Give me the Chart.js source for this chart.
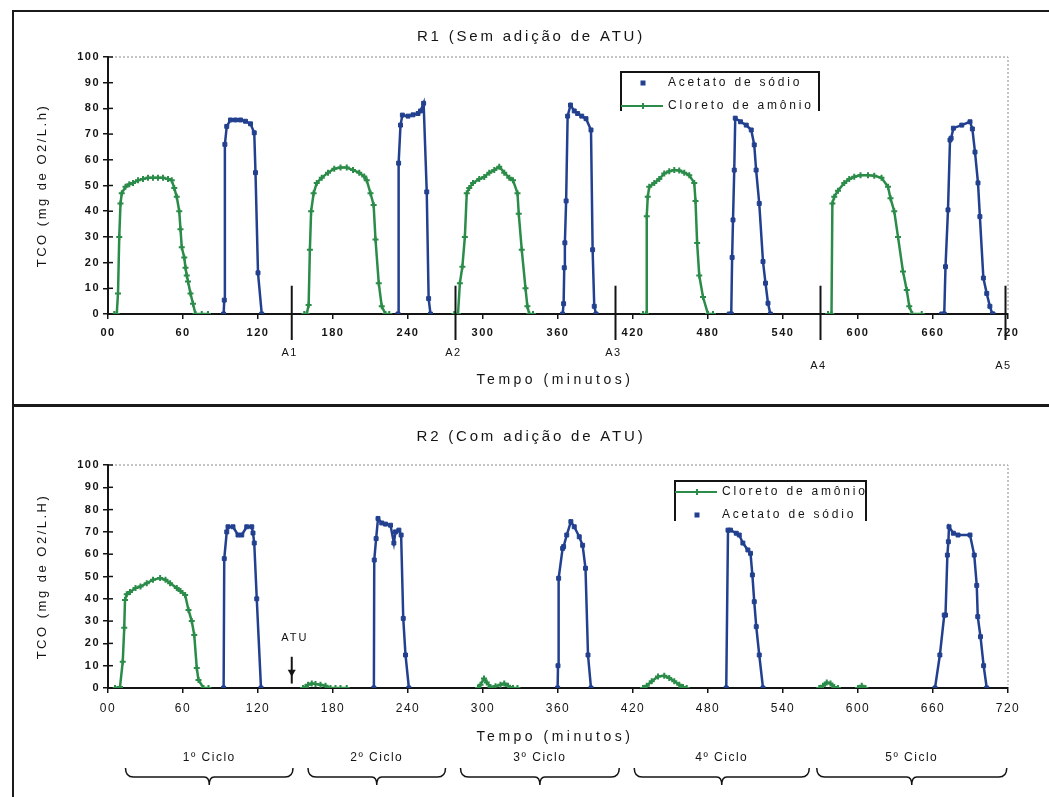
<!DOCTYPE html>
<html lang="pt">
<head>
<meta charset="UTF-8">
<title>TCO - R1 e R2</title>
<script src="https://cdn.jsdelivr.net/npm/chart.js"></script>
<style>
    body { margin: 0; background: #fff; }
    .page { position: relative; width: 1049px; height: 797px; overflow: hidden; background: #fff; }
    .frame { position: absolute; left: 12px; top: 10px; width: 1100px; height: 900px;
             border-left: 2px solid #1a1a1a; border-top: 2px solid #1a1a1a; }
    .divider { position: absolute; left: 12px; top: 404px; width: 1100px; height: 3px; background: #1a1a1a; }
    canvas { position: absolute; left: 0; }
    #chartR1 { top: 0; }
    #chartR2 { top: 400px; }
</style>
</head>
<body>
<div class="page">
    <div class="frame"></div>
    <div class="divider"></div>
    <canvas id="chartR1" width="1049" height="400"></canvas>
    <canvas id="chartR2" width="1049" height="397"></canvas>
</div>

<script>
// eixos
const xTickValues = [0, 60, 120, 180, 240, 300, 360, 420, 480, 540, 600, 660, 720];
const xTickLabels = ['00', '60', '120', '180', '240', '300', '360', '420', '480', '540', '600', '660', '720'];
const yTickValues = [0, 10, 20, 30, 40, 50, 60, 70, 80, 90, 100];
const yTickLabels = ['0', '10', '20', '30', '40', '50', '60', '70', '80', '90', '100'];

// R1 - Cloreto de amônio (null = fim do pico)
const r1CloretoT = [5, 7, 8, 9, 10, 11, 14, 17, 20, 24, 28, 32, 36, 40, 44, 48, 51, 53, 55, 57, 58, 59, 61, 62, 63, 64, 66, 68, 70, 75, 80, null,
    157, 159, 160.5, 161.5, 162.5, 164.5, 167, 171, 176, 181, 186, 191, 196, 201, 205, 207, 210, 212.5, 214, 216.6, 219, 222, 225, null,
    277, 280, 281.5, 283.5, 285.5, 287, 289, 292, 297, 301, 305, 309, 313, 317, 321, 324, 327.6, 328.6, 331, 334, 335.5, 337, 340, null,
    428, 430.5, 431, 431.8, 433, 437, 441, 445, 449, 453, 457, 461, 465, 469, 470, 471.3, 473, 476, 480, 484, null,
    576, 578.8, 579.5, 581, 584, 589, 593, 597, 602, 608, 613, 618.8, 624, 626, 629, 632, 636, 639, 641, 643.4, 651];
const r1CloretoY = [0, 0, 8, 30, 43, 47, 49.5, 50.5, 51, 52, 52.5, 53, 53, 53, 53, 52.5, 52, 49, 45.6, 40, 33, 26, 22, 18, 15, 12.6, 8, 4, 0, 0, 0, null,
    0, 0, 3.5, 25, 40, 47, 51, 53, 55, 56.5, 57, 57, 56, 55, 53.5, 52, 47, 42.4, 29, 12, 3, 0, 0, null,
    0, 0, 12, 18.4, 30, 47, 49, 51, 52.5, 53.3, 55, 56, 57.3, 55, 53, 52, 47, 39, 25, 10, 3, 0, 0, null,
    0, 0, 38, 45.6, 49.5, 51, 52.5, 54.7, 55.5, 56, 55.8, 55, 54, 51, 44, 27.6, 15, 6.6, 0, 0, null,
    0, 0, 43, 45.6, 48, 51, 52.5, 53.4, 54, 54, 53.8, 53, 49.5, 45, 40, 30, 16.5, 9.3, 3, 0, 0];

// R1 - Acetato de sódio
const r1AcetatoT = [92.5, 93, 93.5, 95, 98, 102, 106, 110, 114, 117, 118, 120, 123, null,
    232, 232.5, 234, 235.5, 240, 244, 248, 250, 252.5, 255, 256.5, 258, null,
    363.7, 364.5, 365, 365.5, 366.5, 367.7, 370, 373, 375.7, 379, 382.4, 386.4, 387.7, 389, 390.4, null,
    497, 498.6, 499.3, 500, 501, 501.8, 506, 510.6, 514.6, 517, 518.5, 521, 524, 526, 528, 529.9, null,
    667, 669, 670, 672, 673.6, 674.5, 676.3, 683, 689.6, 691.5, 693.6, 696, 697.5, 700.3, 703, 705.5, 707.5, 708];
const r1AcetatoY = [0, 5.4, 66, 73, 75.5, 75.5, 75.5, 75, 74, 70.5, 55, 16, 0, null,
    0, 58.7, 73.5, 77.4, 77, 77.5, 78, 79, 82, 47.5, 6, 0, null,
    0, 4, 18, 27.7, 44, 77, 81.3, 79, 78, 77, 76, 71.6, 25, 3, 0, null,
    0, 0, 22, 36.6, 56, 76.2, 74.8, 73.5, 71.6, 65.8, 56, 43, 20.4, 12, 4.2, 0, null,
    0, 0, 18.4, 40.5, 67.7, 68.4, 72.3, 73.5, 74.8, 72, 63, 51, 37.9, 14, 8, 3, 0, 0];

// R1 - adições (minutos)
const r1Marcas = [147, 278, 406, 570, 718];
const r1MarcasLabel = ['A1', 'A2', 'A3', 'A4', 'A5'];

// R2 - Cloreto de amônio
const r2CloretoT = [5.6, 9.6, 11.8, 13, 13.6, 15, 17.6, 22, 26, 31, 36, 41.7, 46, 49.7, 55, 58, 61.7, 64.4, 67, 69, 71, 72.4, 76.4, 80.4, null,
    156, 158, 160, 163, 166, 170, 174, 178, 182, 186, 191, null,
    296, 298, 300.8, 303, 306, 310, 314, 317, 320, 324, 327.6, null,
    428, 431, 435, 440, 445, 449, 453, 457, 460, 463, null,
    569, 572, 575, 578, 581, 584, null,
    600, 603, 606];
const r2CloretoY = [0, 0.5, 11.8, 27, 39.5, 42, 43, 44.8, 45.5, 47, 48.5, 49.3, 48.5, 47, 44.8, 43.5, 41.7, 35, 30, 23.8, 9, 3.6, 0, 0, null,
    0, 0.5, 1.5, 2, 1.8, 1.5, 1, 0, 0, 0, 0, null,
    0, 1.5, 4.3, 2.5, 0.5, 0.8, 1.5, 2, 1, 0, 0, null,
    0, 1, 3, 5.2, 5.5, 4.5, 3, 1.5, 0.5, 0, null,
    0, 1, 2.5, 2, 0.5, 0, null,
    0, 1, 0];

// R2 - Acetato de sódio
const r2AcetatoT = [92.5, 93, 95, 96, 100, 104, 107, 111, 115, 116, 117, 119, 122.4, null,
    212.7, 213, 214.5, 216, 219, 222, 226, 228.7, 230, 232.7, 234.5, 236.2, 238, 240.7, null,
    359.7, 360, 360.5, 363.7, 364.5, 367, 370.3, 373, 377, 379.7, 382, 384, 386.4, null,
    494.6, 496, 498, 502.6, 505, 507.9, 511.9, 514, 515.5, 517, 518.6, 521, 524, null,
    661.6, 665.5, 669, 670, 671.5, 672.3, 672.8, 676.3, 680, 689.6, 693, 695, 695.8, 698, 700.5, 703];
const r2AcetatoY = [0, 58, 70, 72.3, 72.3, 68.6, 68.6, 72.3, 72.3, 69.5, 65, 40, 0, null,
    0, 57.4, 67, 76, 74, 73.5, 73, 65, 70, 70.8, 68.6, 31.2, 14.8, 0, null,
    0, 10, 49.2, 62.6, 63.4, 68.6, 74.6, 72.3, 67.8, 64, 53.7, 14.8, 0, null,
    0, 70.8, 70.8, 69.4, 68.6, 65, 61.9, 60.4, 50.7, 38.7, 27.5, 14.8, 0, null,
    0, 14.8, 32.7, 32.7, 59.6, 65.6, 72.3, 69.4, 68.6, 68.6, 59.6, 46, 32, 23, 10, 0];

// R2 - adição de ATU e ciclos (minutos)
const r2Atu = 147;
const r2Ciclos = [[14, 148], [160, 270], [282, 409], [421, 561], [567, 719]];
const r2CiclosLabel = ['1º Ciclo', '2º Ciclo', '3º Ciclo', '4º Ciclo', '5º Ciclo'];

const VERDE = '#2a8c48';
const AZUL = '#22408f';
const TINTA = '#141414';
const FONTE = '"Liberation Sans", Arial, sans-serif';

function pontos(t, y) {
    return t.map((v, i) => ({ x: v, y: y[i] }));
}

function serieCloreto(t, y) {
    return {
        label: 'Cloreto de amônio', data: pontos(t, y), showLine: true, spanGaps: false,
        borderColor: VERDE, backgroundColor: VERDE, borderWidth: 2.5,
        pointStyle: 'cross', pointRadius: 3, pointBorderWidth: 2, tension: 0
    };
}

function serieAcetato(t, y) {
    return {
        label: 'Acetato de sódio', data: pontos(t, y), showLine: true, spanGaps: false,
        borderColor: AZUL, backgroundColor: AZUL, borderWidth: 2.5,
        pointStyle: 'rect', pointRadius: 2.8, pointBorderWidth: 1, tension: 0
    };
}

function texto(ctx, s, x, y, size, spacing, align, weight) {
    ctx.save();
    ctx.font = (weight || 'normal') + ' ' + size + 'px ' + FONTE;
    ctx.letterSpacing = spacing + 'px';
    ctx.fillStyle = TINTA;
    ctx.textAlign = align || 'center';
    ctx.textBaseline = 'middle';
    ctx.fillText(s, x, y);
    ctx.restore();
}

function legenda(ctx, box, itens) {
    ctx.save();
    ctx.strokeStyle = TINTA;
    ctx.lineWidth = 2;
    ctx.beginPath();
    ctx.moveTo(box.x, box.y + box.h);
    ctx.lineTo(box.x, box.y);
    ctx.lineTo(box.x + box.w, box.y);
    ctx.lineTo(box.x + box.w, box.y + box.h);
    ctx.stroke();
    itens.forEach((it, i) => {
        const y = box.y + 11 + i * 23;
        const mx = box.x + 22;
        if (it.linha) {
            ctx.strokeStyle = it.cor;
            ctx.lineWidth = 2;
            ctx.beginPath();
            ctx.moveTo(box.x, y);
            ctx.lineTo(box.x + 42, y);
            ctx.stroke();
        }
        ctx.fillStyle = it.cor;
        ctx.strokeStyle = it.cor;
        if (it.marca === 'rect') {
            ctx.fillRect(mx - 2.5, y - 2.5, 5, 5);
        } else {
            ctx.lineWidth = 2;
            ctx.beginPath();
            ctx.moveTo(mx - 3, y); ctx.lineTo(mx + 3, y);
            ctx.moveTo(mx, y - 3); ctx.lineTo(mx, y + 3);
            ctx.stroke();
        }
        texto(ctx, it.texto, box.x + 47, y, 12, 2.8, 'left');
    });
    ctx.restore();
}

function chave(ctx, x1, x2, y) {
    const mid = (x1 + x2) / 2;
    ctx.beginPath();
    ctx.moveTo(x1, y - 9);
    ctx.quadraticCurveTo(x1, y, x1 + 8, y);
    ctx.lineTo(mid - 5, y);
    ctx.quadraticCurveTo(mid, y, mid, y + 8);
    ctx.quadraticCurveTo(mid, y, mid + 5, y);
    ctx.lineTo(x2 - 8, y);
    ctx.quadraticCurveTo(x2, y, x2, y - 9);
    ctx.stroke();
}

// desenho comum: moldura pontilhada, tracos internos do eixo y, titulos
function decoracao(cfg) {
    return {
        id: 'decoracao',
        beforeDraw(chart) {
            chart.ctx.letterSpacing = '1.5px';
        },
        afterDraw(chart) {
            const ctx = chart.ctx;
            const a = chart.chartArea;
            const xs = chart.scales.x;
            const ys = chart.scales.y;
            ctx.save();
            ctx.letterSpacing = '0px';
            // moldura pontilhada da area
            ctx.strokeStyle = '#8a8a8a';
            ctx.lineWidth = 1;
            ctx.setLineDash([2, 2]);
            ctx.beginPath();
            ctx.moveTo(a.left + 3, a.top);
            ctx.lineTo(a.right, a.top);
            ctx.lineTo(a.right, a.bottom - 3);
            ctx.stroke();
            ctx.setLineDash([]);
            // tracos do eixo y para dentro
            ctx.strokeStyle = TINTA;
            ctx.lineWidth = 1.5;
            yTickValues.forEach(v => {
                const y = ys.getPixelForValue(v);
                ctx.beginPath();
                ctx.moveTo(a.left, y);
                ctx.lineTo(a.left + 5, y);
                ctx.stroke();
            });
            ctx.restore();

            texto(ctx, cfg.titulo, 531, 37, 15, 2.8);
            texto(ctx, 'Tempo (minutos)', (a.left + a.right) / 2 - 3, cfg.tituloXy, 14, 3.5);
            ctx.save();
            ctx.translate(42, (a.top + a.bottom) / 2);
            ctx.rotate(-Math.PI / 2);
            texto(ctx, cfg.tituloY, 0, 0, 13, 2.5);
            ctx.restore();

            legenda(ctx, cfg.legendaBox, cfg.legendaItens);
            if (cfg.extra) cfg.extra(chart, ctx, a, xs, ys);
        }
    };
}

function opcoes(o) {
    return {
        responsive: false,
        animation: false,
        layout: { padding: { left: 0, right: 41, top: o.top, bottom: 0 } },
        plugins: { legend: { display: false }, title: { display: false }, tooltip: { enabled: false } },
        scales: {
            x: {
                type: 'linear', min: 0, max: 720,
                afterBuildTicks: s => { s.ticks = xTickValues.map(v => ({ value: v })); },
                afterFit: s => { s.height = o.xAltura; },
                ticks: {
                    autoSkip: false, maxRotation: 0, padding: o.xPad, color: TINTA,
                    font: { family: FONTE, size: o.xFonte, weight: o.xPeso },
                    callback: (v, i) => xTickLabels[i]
                },
                grid: { drawOnChartArea: false, drawTicks: true, tickLength: 5, color: TINTA, lineWidth: 1.5 },
                border: { display: true, color: TINTA, width: 2 }
            },
            y: {
                min: 0, max: 100,
                afterBuildTicks: s => { s.ticks = yTickValues.map(v => ({ value: v })); },
                afterFit: s => { s.width = 108; },
                ticks: {
                    padding: 3, color: TINTA,
                    font: { family: FONTE, size: 11, weight: 'bold' },
                    callback: (v, i) => yTickLabels[i]
                },
                grid: { drawOnChartArea: false, drawTicks: true, tickLength: 5, color: TINTA, lineWidth: 1.5 },
                border: { display: true, color: TINTA, width: 2 }
            }
        }
    };
}

// R1
new Chart(document.getElementById('chartR1'), {
    type: 'scatter',
    data: { datasets: [serieAcetato(r1AcetatoT, r1AcetatoY), serieCloreto(r1CloretoT, r1CloretoY)] },
    options: opcoes({ top: 57, xAltura: 86, xPad: 7, xFonte: 11, xPeso: 'bold' }),
    plugins: [decoracao({
        titulo: 'R1 (Sem adição de ATU)',
        tituloY: 'TCO (mg de O2/L.h)',
        tituloXy: 380,
        legendaBox: { x: 621, y: 72, w: 198, h: 39 },
        legendaItens: [
            { texto: 'Acetato de sódio', cor: AZUL, marca: 'rect', linha: false },
            { texto: 'Cloreto de amônio', cor: VERDE, marca: 'cross', linha: true }
        ],
        extra(chart, ctx, a, xs, ys) {
            ctx.save();
            ctx.strokeStyle = TINTA;
            ctx.lineWidth = 2;
            r1Marcas.forEach((m, i) => {
                const x = xs.getPixelForValue(m);
                ctx.beginPath();
                ctx.moveTo(x, ys.getPixelForValue(11));
                ctx.lineTo(x, a.bottom + 26);
                ctx.stroke();
                // A4 e A5 ficam uma linha abaixo
                texto(ctx, r1MarcasLabel[i], x - 2, a.bottom + (i >= 3 ? 52 : 39), 11, 1.5);
            });
            ctx.restore();
        }
    })]
});

// R2
new Chart(document.getElementById('chartR2'), {
    type: 'scatter',
    data: { datasets: [serieCloreto(r2CloretoT, r2CloretoY), serieAcetato(r2AcetatoT, r2AcetatoY)] },
    options: opcoes({ top: 65, xAltura: 109, xPad: 8, xFonte: 12, xPeso: 'normal' }),
    plugins: [decoracao({
        titulo: 'R2 (Com adição de ATU)',
        tituloY: 'TCO (mg de O2/L.H)',
        tituloXy: 337,
        legendaBox: { x: 675, y: 81, w: 191, h: 40 },
        legendaItens: [
            { texto: 'Cloreto de amônio', cor: VERDE, marca: 'cross', linha: true },
            { texto: 'Acetato de sódio', cor: AZUL, marca: 'rect', linha: false }
        ],
        extra(chart, ctx, a, xs, ys) {
            // seta ATU
            const x = xs.getPixelForValue(r2Atu);
            ctx.save();
            ctx.strokeStyle = TINTA;
            ctx.fillStyle = TINTA;
            ctx.lineWidth = 2;
            ctx.beginPath();
            ctx.moveTo(x, ys.getPixelForValue(14));
            ctx.lineTo(x, ys.getPixelForValue(2));
            ctx.stroke();
            const yp = ys.getPixelForValue(5);
            ctx.beginPath();
            ctx.moveTo(x - 4, yp - 7);
            ctx.lineTo(x + 4, yp - 7);
            ctx.lineTo(x, yp);
            ctx.closePath();
            ctx.fill();
            texto(ctx, 'ATU', x + 3, ys.getPixelForValue(22.5), 11, 2);
            // ciclos
            ctx.lineWidth = 1.5;
            r2Ciclos.forEach((c, i) => {
                const x1 = xs.getPixelForValue(c[0]);
                const x2 = xs.getPixelForValue(c[1]);
                texto(ctx, r2CiclosLabel[i], (x1 + x2) / 2, 358, 12, 1.5);
                chave(ctx, x1, x2, 377);
            });
            ctx.restore();
        }
    })]
});
</script>
</body>
</html>
